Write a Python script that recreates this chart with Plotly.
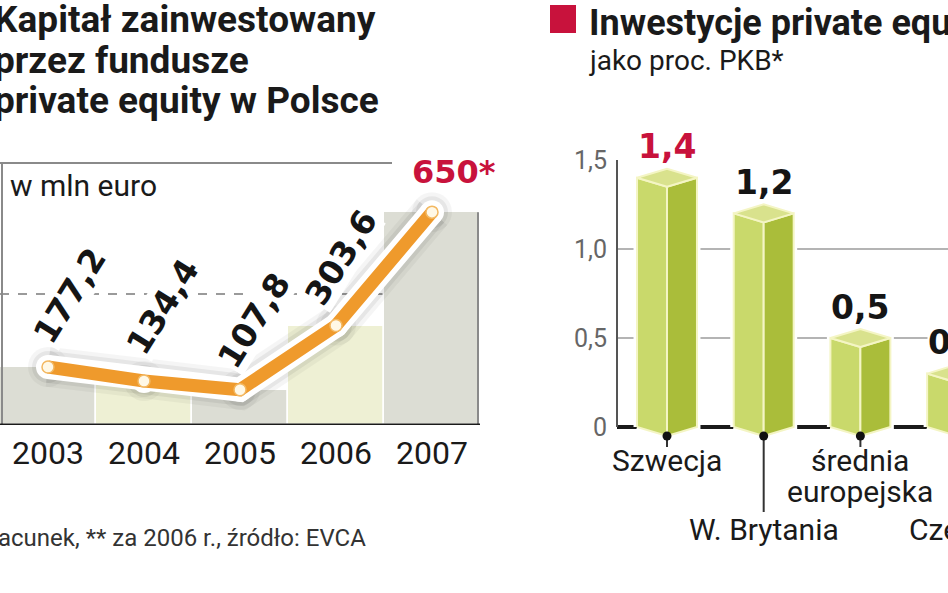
import plotly.graph_objects as go

W, H = 948, 593

# left panel: capital invested by private equity funds in Poland (mln euro)
years = ["2003", "2004", "2005", "2006", "2007"]
capital = [177.2, 134.4, 107.8, 303.6, 650]
capital_labels = ["177,2", "134,4", "107,8", "303,6", "650*"]

# right panel: private equity investment as % of GDP
countries = ["Szwecja", "W. Brytania", "średnia europejska", "Czechy"]
pe_share = [1.4, 1.2, 0.5, 0.3]
pe_labels = ["1,4", "1,2", "0,5", "0,3"]
pe_tickvals = [0, 0.5, 1.0, 1.5]
pe_ticktext = ["0", "0,5", "1,0", "1,5"]

RED = "#c8123c"
ORANGE = "#ef9a2c"
BOLD = "DejaVu Sans"
REG = "Roboto"


def px(x):
    return x / W


def py(y):
    return 1 - y / H


fig = go.Figure()

# --- left panel -----------------------------------------------------------
col_colors = ["#dcddd4" if i % 2 == 0 else "#eef0d4" for i in range(len(years))]
fig.add_trace(go.Bar(
    x=years, y=capital, width=1.0,
    marker=dict(color=col_colors, line=dict(color="white", width=1.5)),
    xaxis="x", yaxis="y", hoverinfo="skip",
))

# soft shadow + white halo + orange line
for width, size, color in [(40, 40, "rgba(0,0,0,0.04)"), (32, 32, "rgba(0,0,0,0.06)"), (24, 24, "white")]:
    fig.add_trace(go.Scatter(
        x=years, y=capital, mode="lines+markers",
        line=dict(color=color, width=width),
        marker=dict(color=color, size=size, line=dict(width=0)),
        xaxis="x", yaxis="y", hoverinfo="skip",
    ))
fig.add_trace(go.Scatter(
    x=years, y=capital, mode="lines+markers",
    line=dict(color=ORANGE, width=13),
    marker=dict(color="#fff8e6", size=12, line=dict(color="#f3b861", width=1.5)),
    xaxis="x", yaxis="y", hoverinfo="skip",
))

annotations = []
label_nudge = [(22, 71), (19, 74), (14, 69), (5, 68)]
for i in range(4):
    annotations.append(dict(
        x=i, y=capital[i], xref="x", yref="y",
        xshift=label_nudge[i][0], yshift=label_nudge[i][1],
        text="<b>" + capital_labels[i] + "</b>", textangle=-58, showarrow=False,
        font=dict(family=BOLD, size=33, color="#151515"),
        bgcolor="white", borderpad=0,
    ))
annotations.append(dict(
    x=4, y=capital[4], xref="x", yref="y", xshift=22, yshift=40,
    text="<b>" + capital_labels[4] + "</b>", showarrow=False,
    font=dict(family=BOLD, size=32, color=RED),
))

# titles and notes, left
for line, ymid in [("Kapitał zainwestowany", 20), ("przez fundusze", 60), ("private equity w Polsce", 100)]:
    annotations.append(dict(
        x=px(-8), y=py(ymid), xref="paper", yref="paper", xanchor="left", yanchor="middle",
        text="<b>" + line + "</b>", showarrow=False,
        font=dict(family=REG, size=37, color="#1a1a1a"),
    ))
annotations.append(dict(
    x=px(8), y=py(185), xref="paper", yref="paper", xanchor="left", yanchor="middle",
    text="w mln euro", showarrow=False, font=dict(family=REG, size=30, color="#1a1a1a"),
))
annotations.append(dict(
    x=px(-4), y=py(538), xref="paper", yref="paper", xanchor="left", yanchor="middle",
    text="acunek, ** za 2006 r., źródło: EVCA", showarrow=False,
    font=dict(family=REG, size=24, color="#333333"),
))

shapes = [
    # frame of the left panel
    dict(type="line", xref="paper", yref="paper", x0=px(0), x1=px(392), y0=py(163), y1=py(163),
         line=dict(color="#8a8a8a", width=2), layer="above"),
    dict(type="line", xref="paper", yref="paper", x0=px(2), x1=px(2), y0=py(163), y1=py(425),
         line=dict(color="#8a8a8a", width=2), layer="above"),
    dict(type="line", xref="paper", yref="y", x0=px(478), x1=px(478), y0=0, y1=capital[-1],
         line=dict(color="#8a8a8a", width=2), layer="above"),
    dict(type="line", xref="paper", yref="y", x0=px(0), x1=px(480), y0=0, y1=0,
         line=dict(color="#1a1a1a", width=3), layer="above"),
]

# --- right panel ----------------------------------------------------------
x2_left_px = 617
x2_range = [-0.517, 2.906]
unit_px = (W - x2_left_px) / (x2_range[1] - x2_range[0])

# black baseline, drawn under the bars
fig.add_trace(go.Scatter(
    x=x2_range, y=[0, 0], mode="lines", line=dict(color="#1a1a1a", width=4),
    xaxis="x2", yaxis="y2", hoverinfo="skip",
))

w = 0.31          # half width of a bar, in category units
d = 9 / 178       # isometric depth, in value units
for i, v in enumerate(pe_share):
    outline_x = [i - w, i, i + w, i + w, i, i - w, i - w]
    outline_y = [0, -d, 0, v, v + d, v, 0]
    fig.add_trace(go.Scatter(
        x=outline_x, y=outline_y, fill="toself", fillcolor="white", mode="lines",
        line=dict(color="white", width=7), xaxis="x2", yaxis="y2", hoverinfo="skip",
    ))
    faces = [
        ([i - w, i, i, i - w, i - w], [0, -d, v - d, v, 0], "#c9d96b"),
        ([i, i + w, i + w, i, i], [-d, 0, v, v - d, -d], "#aabd3a"),
        ([i - w, i, i + w, i, i - w], [v, v + d, v, v - d, v], "#d9e28d"),
    ]
    for fx, fy, fc in faces:
        fig.add_trace(go.Scatter(
            x=fx, y=fy, fill="toself", fillcolor=fc, mode="lines",
            line=dict(color="#f4f5c4", width=2), xaxis="x2", yaxis="y2", hoverinfo="skip",
        ))
    # leader line and dot
    bottom = -(447 - 427) / 178 if i % 2 == 0 else -(512 - 427) / 178
    fig.add_trace(go.Scatter(
        x=[i, i], y=[-d, bottom], mode="lines", line=dict(color="#333333", width=2),
        xaxis="x2", yaxis="y2", hoverinfo="skip",
    ))
    fig.add_trace(go.Scatter(
        x=[i], y=[-d], mode="markers", marker=dict(color="#111111", size=9),
        xaxis="x2", yaxis="y2", hoverinfo="skip",
    ))
    # annotations past the axis range are hidden by plotly, so anchor them
    # at the edge and shift by the remaining distance
    ax = min(i, x2_range[1] - 0.01)
    shift = (i - ax) * unit_px
    annotations.append(dict(
        x=ax, y=v, xref="x2", yref="y2", xshift=shift, yshift=31,
        text="<b>" + pe_labels[i] + "</b>",
        showarrow=False, font=dict(family=BOLD, size=33, color=RED if i == 0 else "#151515"),
        bgcolor="white", borderpad=0,
    ))
    lines = countries[i].split(" ") if countries[i].startswith("średnia") else [countries[i]]
    ymid = 460 if i % 2 == 0 else 529
    for k, part in enumerate(lines):
        annotations.append(dict(
            x=ax, y=py(ymid + 31 * k), xref="x2", yref="paper", xshift=shift, yanchor="middle",
            text=part, showarrow=False, font=dict(family=REG, size=30, color="#1a1a1a"),
        ))

# titles, right
shapes.append(dict(type="rect", xref="paper", yref="paper", x0=px(550), x1=px(576), y0=py(5), y1=py(33),
                   fillcolor=RED, line=dict(width=0)))
annotations.append(dict(
    x=px(587), y=py(23), xref="paper", yref="paper", xanchor="left", yanchor="middle",
    text="<b>Inwestycje private equity</b>", showarrow=False,
    font=dict(family=REG, size=36, color="#1a1a1a"),
))
annotations.append(dict(
    x=px(587), y=py(61), xref="paper", yref="paper", xanchor="left", yanchor="middle",
    text="jako proc. PKB*", showarrow=False, font=dict(family=REG, size=28, color="#1a1a1a"),
))

# y axis line of the right panel
shapes.append(dict(type="line", xref="paper", yref="y2", x0=px(x2_left_px), x1=px(x2_left_px), y0=0, y1=1.5,
                   line=dict(color="#555555", width=2), layer="above"))

fig.update_layout(
    width=W, height=H,
    margin=dict(l=0, r=0, t=0, b=0, autoexpand=False),
    paper_bgcolor="white", plot_bgcolor="rgba(0,0,0,0)",
    showlegend=False, bargap=0,
    xaxis=dict(domain=[px(0), px(480)], range=[-0.5, 4.5], type="category",
               showgrid=False, zeroline=False, showline=False, ticks="",
               tickfont=dict(family=REG, size=32, color="#1a1a1a"), ticklabelstandoff=6,
               fixedrange=True),
    yaxis=dict(domain=[py(425), py(163)], range=[0, 800], tickvals=[400],
               showticklabels=False, showgrid=True, gridcolor="#9a9a9a", gridwidth=1.5,
               griddash="dash", zeroline=False, showline=False, ticks="", fixedrange=True),
    xaxis2=dict(domain=[px(x2_left_px), 1], range=x2_range, showgrid=False, zeroline=False,
                showline=False, showticklabels=False, ticks="", fixedrange=True),
    yaxis2=dict(domain=[py(515), py(160)], range=[-(515 - 427) / 178, 1.5], anchor="x2",
                tickvals=pe_tickvals, ticktext=pe_ticktext, showgrid=True, gridcolor="#b4b4b4",
                gridwidth=2, zeroline=False, showline=False, ticks="", ticklabelstandoff=9,
                tickfont=dict(family=REG, size=25, color="#666666"), fixedrange=True),
    shapes=shapes,
    annotations=annotations,
)

# the page's default body margin would shift the figure by 8px
fig.write_html("out.html", config={"displayModeBar": False},
               post_script="document.body.style.margin='0';")
